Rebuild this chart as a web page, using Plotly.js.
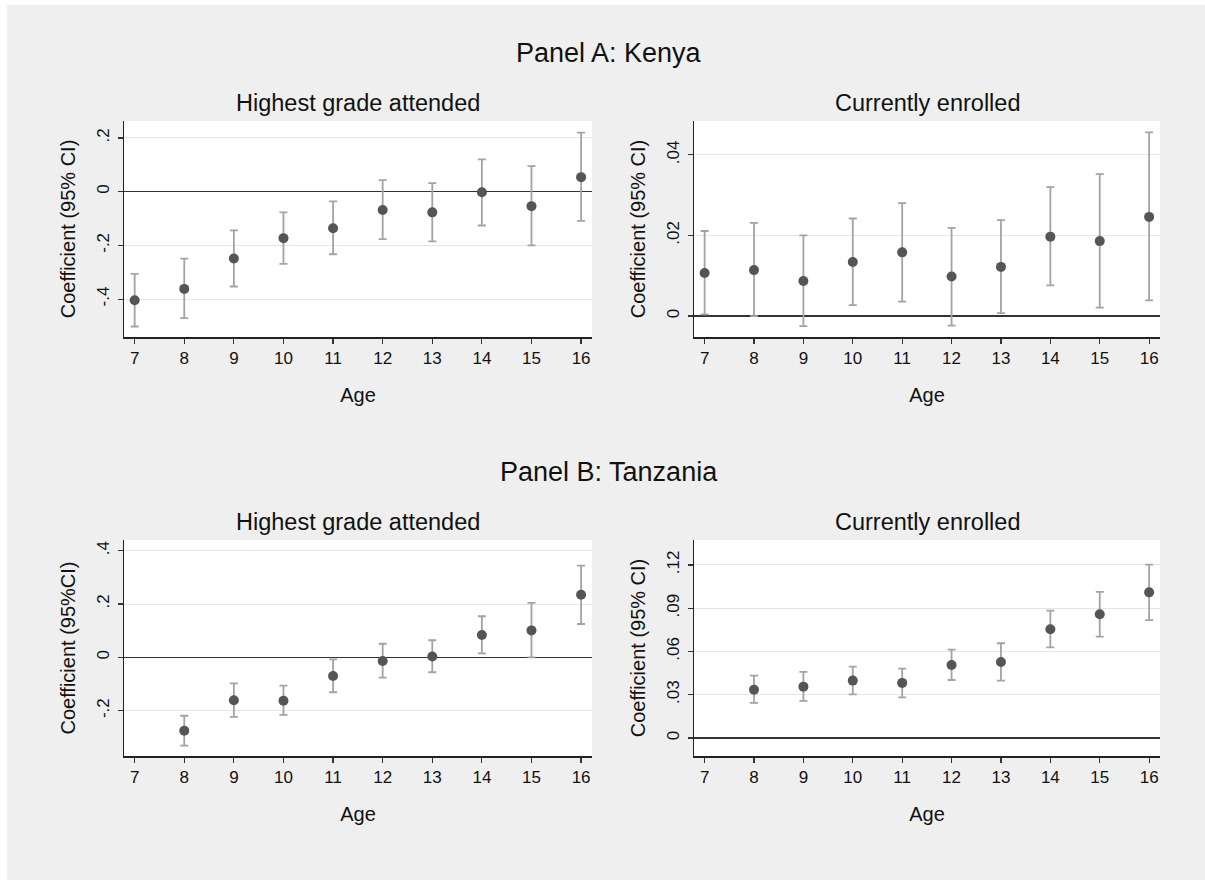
<!DOCTYPE html>
<html>
<head>
<meta charset="utf-8">
<script src="https://cdn.plot.ly/plotly-3.0.1.min.js"></script>
<style>
  html, body { margin: 0; padding: 0; background: #ffffff; }
  #chart { position: absolute; left: 7px; top: 5px; width: 1198px; height: 875px; }
</style>
</head>
<body>
<div id="chart"></div>
<script>
// ---- Data ----
const ageA = [7, 8, 9, 10, 11, 12, 13, 14, 15, 16];
const ageB = [8, 9, 10, 11, 12, 13, 14, 15, 16];

// Panel A (Kenya): Highest grade attended
const kenyaGradeCoef = [-0.404, -0.362, -0.249, -0.173, -0.136, -0.068, -0.077, -0.002, -0.054, 0.054];
const kenyaGradeLo   = [-0.502, -0.471, -0.353, -0.269, -0.233, -0.177, -0.185, -0.126, -0.200, -0.109];
const kenyaGradeHi   = [-0.306, -0.249, -0.144, -0.077, -0.036, 0.043, 0.032, 0.120, 0.095, 0.220];

// Panel A (Kenya): Currently enrolled
const kenyaEnrCoef = [0.0107, 0.0114, 0.0087, 0.0134, 0.0158, 0.0098, 0.0122, 0.0197, 0.0186, 0.0246];
const kenyaEnrLo   = [0.0004, 0.0000, -0.0025, 0.0027, 0.0036, -0.0024, 0.0007, 0.0076, 0.0021, 0.0039];
const kenyaEnrHi   = [0.0211, 0.0231, 0.0200, 0.0242, 0.0280, 0.0219, 0.0238, 0.0320, 0.0352, 0.0456];

// Panel B (Tanzania): Highest grade attended
const tanzGradeCoef = [-0.275, -0.161, -0.163, -0.070, -0.014, 0.003, 0.084, 0.101, 0.235];
const tanzGradeLo   = [-0.331, -0.223, -0.216, -0.131, -0.076, -0.056, 0.015, 0.000, 0.125];
const tanzGradeHi   = [-0.219, -0.098, -0.106, -0.008, 0.051, 0.064, 0.154, 0.204, 0.344];

// Panel B (Tanzania): Currently enrolled
const tanzEnrCoef = [0.0335, 0.0356, 0.0398, 0.0382, 0.0506, 0.0527, 0.0754, 0.0858, 0.1010];
const tanzEnrLo   = [0.0243, 0.0257, 0.0303, 0.0282, 0.0402, 0.0398, 0.0629, 0.0703, 0.0818];
const tanzEnrHi   = [0.0432, 0.0458, 0.0495, 0.0481, 0.0613, 0.0657, 0.0883, 0.1013, 0.1202];

// Tick labels
const xTicks = [7, 8, 9, 10, 11, 12, 13, 14, 15, 16];
const yTicksKG = [-0.4, -0.2, 0, 0.2];     const yTextKG = ['-.4', '-.2', '0', '.2'];
const yTicksKE = [0, 0.02, 0.04];          const yTextKE = ['0', '.02', '.04'];
const yTicksTG = [-0.2, 0, 0.2, 0.4];      const yTextTG = ['-.2', '0', '.2', '.4'];
const yTicksTE = [0, 0.03, 0.06, 0.09, 0.12]; const yTextTE = ['0', '.03', '.06', '.09', '.12'];

const panelTitles = ['Panel A: Kenya', 'Panel B: Tanzania'];
const subTitles = ['Highest grade attended', 'Currently enrolled'];
const yTitles = ['Coefficient (95% CI)', 'Coefficient (95% CI)', 'Coefficient (95%CI)', 'Coefficient (95% CI)'];
const xTitle = 'Age';

// ---- Styling ----
const FONT = 'Liberation Sans, Arial, Helvetica, sans-serif';
const markerColor = '#555555';
const barColor = '#a3a3a3';

function trace(x, y, lo, hi, xa, ya) {
  return {
    type: 'scatter', mode: 'markers', x: x, y: y,
    xaxis: xa, yaxis: ya,
    marker: { color: markerColor, size: 10 },
    error_y: {
      type: 'data', symmetric: false,
      array: y.map((v, i) => hi[i] - v),
      arrayminus: y.map((v, i) => v - lo[i]),
      color: barColor, thickness: 1.8, width: 4
    },
    hoverinfo: 'x+y', showlegend: false, cliponaxis: false
  };
}

const data = [
  trace(ageA, kenyaGradeCoef, kenyaGradeLo, kenyaGradeHi, 'x', 'y'),
  trace(ageA, kenyaEnrCoef, kenyaEnrLo, kenyaEnrHi, 'x2', 'y2'),
  trace(ageB, tanzGradeCoef, tanzGradeLo, tanzGradeHi, 'x3', 'y3'),
  trace(ageB, tanzEnrCoef, tanzEnrLo, tanzEnrHi, 'x4', 'y4')
];

const W = 1198, H = 875;
const colL = [117 / W, 585 / W];
const colR = [687 / W, 1153 / W];
const rowA = [1 - 332 / H, 1 - 116 / H];
const rowB = [1 - 751 / H, 1 - 535 / H];

function xaxis(domain, anchor) {
  return {
    domain: domain, anchor: anchor, range: [6.785, 16.22],
    tickmode: 'array', tickvals: xTicks, ticktext: xTicks.map(String),
    ticks: 'outside', ticklen: 5, tickwidth: 1.2, tickcolor: '#333',
    showline: true, linecolor: '#222', linewidth: 1.5,
    showgrid: false, zeroline: false,
    tickfont: { family: FONT, size: 17, color: '#111' },
    title: { text: xTitle, font: { family: FONT, size: 20, color: '#111' }, standoff: 21 }
  };
}
function yaxis(domain, anchor, range, vals, txt, title) {
  return {
    domain: domain, anchor: anchor, range: range,
    tickmode: 'array', tickvals: vals, ticktext: txt, tickangle: -90,
    ticks: 'outside', ticklen: 5, tickwidth: 1.2, tickcolor: '#333',
    ticklabelstandoff: 2,
    showline: true, linecolor: '#222', linewidth: 1.5,
    showgrid: true, gridcolor: '#e6e6e6', gridwidth: 1,
    zeroline: true, zerolinecolor: '#333', zerolinewidth: 1.5,
    tickfont: { family: FONT, size: 17, color: '#111' },
    title: { text: title, font: { family: FONT, size: 20, color: '#111' }, standoff: 12 }
  };
}

function ann(text, x, y, size) {
  return { text: text, x: x, y: y, xref: 'paper', yref: 'paper', xanchor: 'center', yanchor: 'middle',
           showarrow: false, font: { family: FONT, size: size, color: '#111' } };
}
const cL = (colL[0] + colL[1]) / 2, cR = (colR[0] + colR[1]) / 2;

const layout = {
  width: W, height: H,
  margin: { l: 0, r: 0, t: 0, b: 0 },
  paper_bgcolor: '#efefef', plot_bgcolor: '#ffffff',
  showlegend: false,
  xaxis: xaxis(colL, 'y'),
  yaxis: yaxis(rowA, 'x', [-0.541, 0.263], yTicksKG, yTextKG, yTitles[0]),
  xaxis2: xaxis(colR, 'y2'),
  yaxis2: yaxis(rowA, 'x2', [-0.0052, 0.0484], yTicksKE, yTextKE, yTitles[1]),
  xaxis3: xaxis(colL, 'y3'),
  yaxis3: yaxis(rowB, 'x3', [-0.37, 0.44], yTicksTG, yTextTG, yTitles[2]),
  xaxis4: xaxis(colR, 'y4'),
  yaxis4: yaxis(rowB, 'x4', [-0.0125, 0.1373], yTicksTE, yTextTE, yTitles[3]),
  annotations: [
    ann(panelTitles[0], 0.5025, 1 - 47.7 / H, 27),
    ann(subTitles[0], cL, 1 - 98 / H, 23.5),
    ann(subTitles[1], cR, 1 - 98 / H, 23.5),
    ann(panelTitles[1], 0.5025, 1 - 467 / H, 27),
    ann(subTitles[0], cL, 1 - 517 / H, 23.5),
    ann(subTitles[1], cR, 1 - 517 / H, 23.5)
  ]
};

Plotly.newPlot('chart', data, layout, { displayModeBar: false, staticPlot: true });
</script>
</body>
</html>
